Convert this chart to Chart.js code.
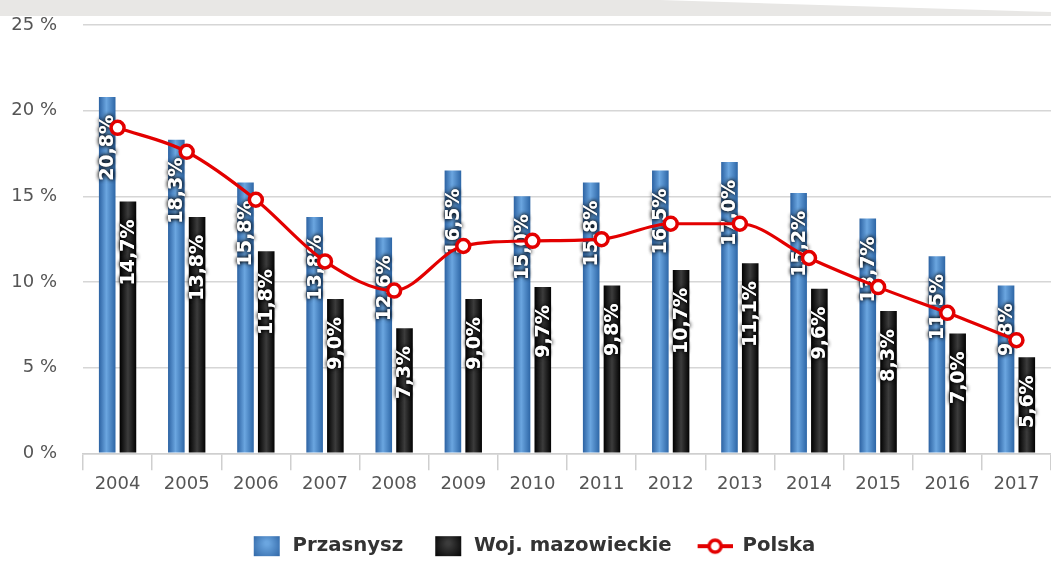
<!DOCTYPE html>
<html>
<head>
<meta charset="utf-8">
<script src="https://cdn.jsdelivr.net/npm/chart.js@4/dist/chart.umd.min.js"></script>
<style>
  html, body { margin: 0; padding: 0; background: #ffffff; }
  #wrap { position: relative; width: 1051px; height: 561px; }
  #band { position: absolute; left: 0; top: 0; width: 1051px; height: 16px; background: #e8e7e5;
          clip-path: polygon(0 0, 660px 0, 1051px 12px, 1051px 16px, 0 16px); }
  canvas { position: absolute; left: 0; top: 0; }
</style>
</head>
<body>
<div id="wrap">
  <div id="band"></div>
  <canvas id="c" width="1051" height="561"></canvas>
</div>
<script>
const years = ['2004','2005','2006','2007','2008','2009','2010','2011','2012','2013','2014','2015','2016','2017'];
const przasnysz = [20.8, 18.3, 15.8, 13.8, 12.6, 16.5, 15.0, 15.8, 16.5, 17.0, 15.2, 13.7, 11.5, 9.8];
const mazowieckie = [14.7, 13.8, 11.8, 9.0, 7.3, 9.0, 9.7, 9.8, 10.7, 11.1, 9.6, 8.3, 7.0, 5.6];
const polska = [19.0, 17.6, 14.8, 11.2, 9.5, 12.1, 12.4, 12.5, 13.4, 13.4, 11.4, 9.7, 8.2, 6.6];
const yTicks = [0, 5, 10, 15, 20, 25];
const seriesNames = ['Przasnysz', 'Woj. mazowieckie', 'Polska'];

const FONT = '"DejaVu Sans", sans-serif';
const BLUE_STOPS = [[0, '#2c62a2'], [0.45, '#6ba6e0'], [1, '#2d66a6']];
const BLACK_STOPS = [[0, '#000000'], [0.5, '#3c3c3c'], [1, '#020202']];
const RED = '#e30000';

function fmt(v) { return v.toFixed(1).replace('.', ',') + '%'; }

function hGrad(ctx, x0, x1, stops) {
  const g = ctx.createLinearGradient(x0, 0, x1, 0);
  stops.forEach(s => g.addColorStop(s[0], s[1]));
  return g;
}

// legend images
const LW = 47;
function boxImg(left, stops) {
  const c = document.createElement('canvas');
  c.width = LW; c.height = 22;
  const x = c.getContext('2d');
  const g = x.createRadialGradient(left + 13, 8, 2, left + 13, 11, 18);
  g.addColorStop(0, stops[1][1]);
  g.addColorStop(1, stops[0][1]);
  x.fillStyle = g;
  x.fillRect(left, 1, 26, 20);
  return c;
}
function lineImg(left) {
  const c = document.createElement('canvas');
  c.width = LW; c.height = 22;
  const x = c.getContext('2d');
  x.strokeStyle = RED; x.lineWidth = 4;
  x.beginPath(); x.moveTo(left, 11); x.lineTo(left + 35, 11); x.stroke();
  x.beginPath(); x.arc(left + 17.5, 11, 6, 0, Math.PI * 2);
  x.fillStyle = '#fff'; x.fill(); x.lineWidth = 3.5; x.stroke();
  return c;
}
const legendImgs = [boxImg(18, BLUE_STOPS), boxImg(18, BLACK_STOPS), lineImg(12)];

const gradientPlugin = {
  id: 'barGradient',
  afterDatasetsUpdate(chart) {
    const ctx = chart.ctx;
    chart.data.datasets.forEach((ds, di) => {
      if (ds.type !== 'bar') return;
      const meta = chart.getDatasetMeta(di);
      const stops = di === 0 ? BLUE_STOPS : BLACK_STOPS;
      meta.data.forEach(el => {
        const w = el.width;
        const g = hGrad(ctx, el.x - w / 2, el.x + w / 2, stops);
        el.options = Object.assign({}, el.options, { backgroundColor: g });
      });
    });
  }
};

const labelPlugin = {
  id: 'barLabels',
  afterDatasetDraw(chart, args) {
    const ds = chart.data.datasets[args.index];
    if (ds.type !== 'bar') return;
    const ctx = chart.ctx;
    args.meta.data.forEach((el, i) => {
      ctx.save();
      ctx.translate(el.x, el.y + 18);
      ctx.rotate(-Math.PI / 2);
      ctx.font = 'bold 19px ' + FONT;
      ctx.textAlign = 'right';
      ctx.textBaseline = 'middle';
      ctx.shadowColor = 'rgba(0,0,0,0.9)';
      ctx.shadowBlur = 4;
      ctx.fillStyle = '#ffffff';
      const t = fmt(ds.data[i]);
      ctx.fillText(t, 0, 1);
      ctx.fillText(t, 0, 1);
      ctx.restore();
    });
  }
};

new Chart(document.getElementById('c'), {
  type: 'bar',
  data: {
    labels: years,
    datasets: [
      { type: 'bar', label: seriesNames[0], data: przasnysz, backgroundColor: '#4a86c5', order: 1,
        categoryPercentage: 0.6, barPercentage: 0.8 },
      { type: 'bar', label: seriesNames[1], data: mazowieckie, backgroundColor: '#111111', order: 1,
        categoryPercentage: 0.6, barPercentage: 0.8 },
      { type: 'line', label: seriesNames[2], data: polska, order: 0,
        borderColor: RED, borderWidth: 3.2, cubicInterpolationMode: 'monotone',
        pointRadius: 6.5, pointHoverRadius: 6.5, pointBorderWidth: 3.5,
        pointBorderColor: RED, pointBackgroundColor: '#ffffff' }
    ]
  },
  options: {
    responsive: false,
    animation: false,
    layout: { autoPadding: false, padding: { top: 25, right: 0, bottom: -5, left: 0 } },
    plugins: {
      tooltip: { enabled: false },
      legend: {
        position: 'bottom',
        labels: {
          usePointStyle: true,
          pointStyleWidth: LW,
          padding: 14,
          color: '#333333',
          font: { family: FONT, size: 19.7, weight: 'bold' },
          generateLabels(chart) {
            return chart.data.datasets.map((ds, i) => ({
              text: ds.label, datasetIndex: i, pointStyle: legendImgs[i],
              fillStyle: 'transparent', strokeStyle: 'transparent', lineWidth: 0,
              hidden: false, fontColor: '#333333'
            }));
          }
        }
      }
    },
    scales: {
      x: {
        offset: true,
        grid: { display: true, drawOnChartArea: false, drawTicks: true, tickLength: 17,
                color: '#cfcfcf', lineWidth: 1.5, offset: true },
        border: { display: true, color: '#cfcfcf', width: 1.5 },
        ticks: { color: '#555555', font: { family: FONT, size: 18 }, padding: 3, maxRotation: 0 },
        afterFit(s) { s.height = 69; s.paddingLeft = 0; s.paddingRight = 0; }
      },
      y: {
        min: 0, max: 25,
        afterBuildTicks(s) { s.ticks = yTicks.map(v => ({ value: v })); },
        grid: { color: '#d6d6d6', lineWidth: 1.5, drawTicks: false },
        border: { display: false },
        ticks: { color: '#555555', font: { family: FONT, size: 18 }, padding: 26,
                 callback: v => v + ' %' },
        afterFit(s) { s.width = 83; s.paddingTop = 0; s.paddingBottom = 0; }
      }
    }
  },
  plugins: [gradientPlugin, labelPlugin]
});
</script>
</body>
</html>
